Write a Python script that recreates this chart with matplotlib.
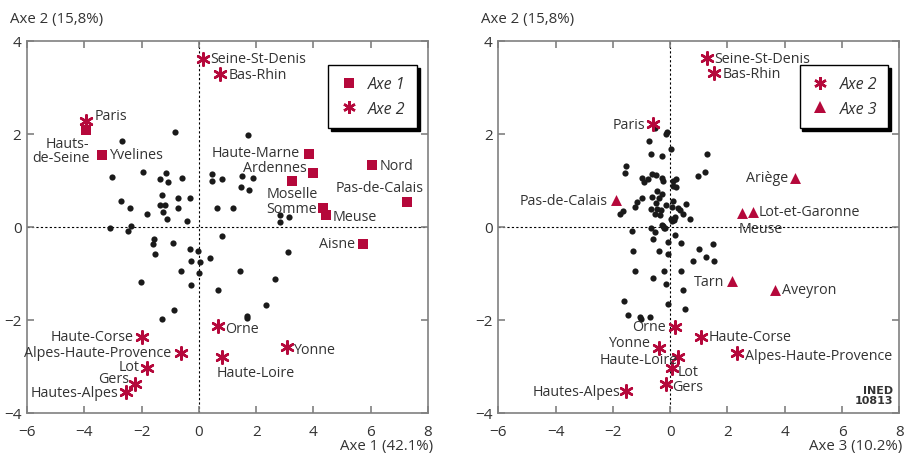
import matplotlib
matplotlib.use('Agg')
import matplotlib.pyplot as plt
from matplotlib.lines import Line2D

plt.rcParams['font.family'] = ['Open Sans', 'DejaVu Sans']

ROUGE = '#b5083b'
GRIS = '#808080'

# ---- panneau gauche : Axe 1 x Axe 2 ----
g_axe1_noms = ['Hauts-\nde-Seine', 'Yvelines', 'Haute-Marne', 'Ardennes', 'Moselle',
               'Nord', 'Pas-de-Calais', 'Somme', 'Meuse', 'Aisne']
g_axe1_x = [-3.95, -3.37, 3.85, 3.98, 3.26, 6.06, 7.27, 4.32, 4.45, 5.74]
g_axe1_y = [2.08, 1.55, 1.57, 1.16, 0.99, 1.32, 0.54, 0.39, 0.24, -0.37]

g_axe2_noms = ['Seine-St-Denis', 'Bas-Rhin', 'Paris', 'Orne', 'Haute-Loire', 'Yonne',
               'Haute-Corse', 'Alpes-Haute-Provence', 'Lot', 'Gers', 'Hautes-Alpes']
g_axe2_x = [0.13, 0.75, -3.93, 0.67, 0.82, 3.07, -1.99, -0.64, -1.81, -2.23, -2.53]
g_axe2_y = [3.61, 3.28, 2.28, -2.13, -2.80, -2.59, -2.37, -2.71, -3.05, -3.38, -3.56]

g_autres_x = [-2.68, -0.84, 1.72, -3.02, -1.94, -1.35, -1.14, -1.08, -0.58, -1.30,
              -0.73, -0.32, -2.71, -2.40, -1.81, -1.37, -1.17, -1.24, -1.10, -0.72,
              -0.40, 0.46, 0.46, 0.82, 1.52, 1.88, 1.46, 1.75, 0.63, 1.19,
              2.83, 3.15, 2.83, -3.09, -2.38, -2.47, -1.55, -1.60, -1.53, -0.89,
              -0.30, -0.03, -0.29, 0.04, 0.39, 0.82, -0.64, 0.02, 1.42, 3.12,
              2.65, -2.01, -0.29, 0.68, 2.34, 1.68, 1.68, -0.88, -1.28]
g_autres_y = [1.85, 2.04, 1.97, 1.06, 1.18, 1.03, 1.15, 0.97, 1.04, 0.69,
              0.62, 0.62, 0.55, 0.40, 0.27, 0.46, 0.47, 0.31, 0.16, 0.41,
              0.12, 1.13, 0.98, 1.03, 1.08, 1.04, 0.86, 0.79, 0.40, 0.39,
              0.25, 0.20, 0.09, -0.04, 0.01, -0.09, -0.27, -0.37, -0.58, -0.35,
              -0.49, -0.53, -0.75, -0.77, -0.67, -0.20, -0.96, -0.99, -0.96, -0.54,
              -1.13, -1.20, -1.25, -1.37, -1.68, -1.92, -1.97, -1.80, -1.98]

# ---- panneau droit : Axe 3 x Axe 2 ----
d_axe2_noms = ['Seine-St-Denis', 'Bas-Rhin', 'Paris', 'Orne', 'Haute-Corse',
               'Alpes-Haute-Provence', 'Yonne', 'Haute-Loire', 'Lot', 'Gers', 'Hautes-Alpes']
d_axe2_x = [1.27, 1.54, -0.60, 0.16, 1.06, 2.34, -0.39, 0.26, 0.05, -0.16, -1.53]
d_axe2_y = [3.62, 3.30, 2.20, -2.15, -2.37, -2.73, -2.61, -2.80, -3.05, -3.38, -3.54]

d_axe3_noms = ['Ariège', 'Pas-de-Calais', 'Meuse', 'Lot-et-Garonne', 'Tarn', 'Aveyron']
d_axe3_x = [4.35, -1.89, 2.52, 2.89, 2.16, 3.65]
d_axe3_y = [1.05, 0.57, 0.29, 0.32, -1.18, -1.36]

d_autres_x = [-0.52, -0.15, -0.11, -0.74, 0.04, -0.67, -0.27, 1.27, -1.55, -1.58,
              1.22, 0.97, -0.98, -0.90, -0.79, -0.62, -0.48, -0.29, -0.25, 0.11,
              0.22, 0.10, 0.21, -0.46, -0.29, -0.64, -0.38, -0.98, -1.16, -1.24,
              -1.66, -1.76, -0.51, -0.16, 0.10, 0.54, 0.08, 0.28, 0.44, 0.71,
              -0.67, -0.46, -0.33, -0.53, -0.35, 0.04, 0.12, 0.08, 0.35, -0.25,
              -0.67, -0.20, 0.18, -1.33, -0.52, -0.29, -0.19, 0.18, -0.60, -0.07,
              0.37, 1.48, -1.31, -0.38, -0.08, 1.00, 1.25, 0.81, 1.52, -1.24,
              -0.23, 0.38, -0.60, -0.16, 0.45, -0.09, 0.51, -1.61, -1.47, -1.05,
              -1.01, -0.72]
d_autres_y = [2.13, 1.99, 2.03, 1.84, 1.68, 1.56, 1.51, 1.56, 1.31, 1.16,
              1.17, 1.08, 1.05, 0.97, 1.02, 1.14, 1.12, 1.05, 0.99, 0.98,
              1.03, 0.88, 0.86, 0.77, 0.70, 0.63, 0.62, 0.62, 0.54, 0.42,
              0.34, 0.27, 0.50, 0.47, 0.56, 0.49, 0.42, 0.40, 0.27, 0.16,
              0.38, 0.38, 0.35, 0.27, 0.26, 0.16, 0.14, 0.11, 0.36, 0.02,
              -0.03, -0.04, 0.21, -0.09, -0.11, 0.04, -0.03, -0.19, -0.27, -0.34,
              -0.35, -0.37, -0.53, -0.53, -0.58, -0.48, -0.65, -0.73, -0.75, -0.95,
              -0.96, -0.95, -1.10, -1.23, -1.36, -1.67, -1.78, -1.61, -1.91, -1.94,
              -1.98, -1.94]

# placement des étiquettes (décalage en pixels, alignements)
place_gauche = {
    'Seine-St-Denis': (8, 0, 'left', 'center'),
    'Bas-Rhin': (8, 0, 'left', 'center'),
    'Paris': (8, 5, 'left', 'center'),
    'Hauts-\nde-Seine': (4, -6, 'right', 'top'),
    'Yvelines': (7, 0, 'left', 'center'),
    'Haute-Marne': (-9, 1, 'right', 'center'),
    'Ardennes': (-6, 5, 'right', 'center'),
    'Moselle': (0, -5, 'center', 'top'),
    'Somme': (-6, 0, 'right', 'center'),
    'Meuse': (6, -1, 'left', 'center'),
    'Nord': (7, 0, 'left', 'center'),
    'Pas-de-Calais': (17, 14, 'right', 'center'),
    'Aisne': (-8, 0, 'right', 'center'),
    'Orne': (7, -3, 'left', 'center'),
    'Haute-Loire': (-6, -8, 'left', 'top'),
    'Yonne': (6, -3, 'left', 'center'),
    'Haute-Corse': (-8, 0, 'right', 'center'),
    'Alpes-Haute-Provence': (-9, 0, 'right', 'center'),
    'Lot': (-8, 2, 'right', 'center'),
    'Gers': (-6, 5, 'right', 'center'),
    'Hautes-Alpes': (-8, 0, 'right', 'center'),
}
place_droite = {
    'Seine-St-Denis': (8, 0, 'left', 'center'),
    'Bas-Rhin': (8, 0, 'left', 'center'),
    'Paris': (-8, 0, 'right', 'center'),
    'Ariège': (-7, 0, 'right', 'center'),
    'Pas-de-Calais': (-8, 0, 'right', 'center'),
    'Lot-et-Garonne': (6, 0, 'left', 'center'),
    'Meuse': (-4, -8, 'left', 'top'),
    'Tarn': (-8, 0, 'right', 'center'),
    'Aveyron': (7, 0, 'left', 'center'),
    'Orne': (-9, 0, 'right', 'center'),
    'Haute-Corse': (8, 0, 'left', 'center'),
    'Alpes-Haute-Provence': (8, -2, 'left', 'center'),
    'Yonne': (-9, 5, 'right', 'center'),
    'Haute-Loire': (0, -3, 'right', 'center'),
    'Lot': (6, -3, 'left', 'center'),
    'Gers': (7, -3, 'left', 'center'),
    'Hautes-Alpes': (-6, 0, 'right', 'center'),
}

ETOILE = (6, 2, 0)
TAILLE_TXT = 10.3


def habiller(ax):
    ax.set_xlim(-6, 8)
    ax.set_ylim(-4, 4)
    ax.set_xticks(range(-6, 9, 2))
    ax.set_yticks(range(-4, 5, 2))
    ax.axhline(0, color='k', ls=(0, (2, 2)), lw=0.8, zorder=1)
    ax.axvline(0, color='k', ls=(0, (2, 2)), lw=0.8, zorder=1)
    for s in ax.spines.values():
        s.set_color(GRIS)
        s.set_linewidth(1.2)
    ax.tick_params(direction='in', length=5, width=1.2, color=GRIS, top=True, right=True,
                   labelsize=11, labelcolor='#333333')
    ax.tick_params(axis='x', pad=8)
    ax.tick_params(axis='y', pad=4)


def etiquettes(ax, noms, xs, ys, place):
    for n, x, y in zip(noms, xs, ys):
        dx, dy, ha, va = place[n]
        ax.annotate(n, (x, y), xytext=(dx, dy), textcoords='offset pixels',
                    ha=ha, va=va, fontsize=TAILLE_TXT, color='#333333',
                    linespacing=0.95, zorder=4)


def legende(ax, items, ancre):
    poignees = []
    for marq, lab, ms in items:
        poignees.append(Line2D([], [], ls='none', marker=marq, color=ROUGE, markersize=ms,
                               markeredgewidth=1.8 if marq == ETOILE else 0, label=lab))
    leg = ax.legend(handles=poignees, loc='upper right', bbox_to_anchor=ancre,
                    borderaxespad=0, frameon=True, fancybox=False,
                    shadow={'color': 'k', 'alpha': 1}, prop={'style': 'italic', 'size': 11.5},
                    handlelength=1.2, handletextpad=0.6, borderpad=0.7, labelspacing=0.55)
    leg.get_frame().set_edgecolor('k')
    leg.get_frame().set_linewidth(1)
    for t in leg.get_texts():
        t.set_color('#333333')


fig = plt.figure(figsize=(9.05, 4.56), dpi=100)

ax1 = fig.add_axes([27 / 905, 42.5 / 456, 401 / 905, 371.8 / 456])
habiller(ax1)
ax1.scatter(g_autres_x, g_autres_y, s=20, color='#1a1a1a', zorder=2, lw=0)
ax1.scatter(g_axe1_x, g_axe1_y, marker='s', s=58, color=ROUGE, zorder=3, lw=0)
ax1.scatter(g_axe2_x, g_axe2_y, marker=ETOILE, s=80, color=ROUGE, zorder=3, lw=1.8)
etiquettes(ax1, g_axe1_noms, g_axe1_x, g_axe1_y, place_gauche)
etiquettes(ax1, g_axe2_noms, g_axe2_x, g_axe2_y, place_gauche)
legende(ax1, [('s', 'Axe 1', 7.5), (ETOILE, 'Axe 2', 9)], (0.9726, 0.9347))

ax2 = fig.add_axes([498.3 / 905, 42.5 / 456, 401 / 905, 371.8 / 456])
habiller(ax2)
ax2.scatter(d_autres_x, d_autres_y, s=20, color='#1a1a1a', zorder=2, lw=0)
ax2.scatter(d_axe2_x, d_axe2_y, marker=ETOILE, s=80, color=ROUGE, zorder=3, lw=1.8)
ax2.scatter(d_axe3_x, d_axe3_y, marker='^', s=62, color=ROUGE, zorder=3, lw=0)
etiquettes(ax2, d_axe2_noms, d_axe2_x, d_axe2_y, place_droite)
etiquettes(ax2, d_axe3_noms, d_axe3_x, d_axe3_y, place_droite)
legende(ax2, [(ETOILE, 'Axe 2', 9), ('^', 'Axe 3', 9)], (0.9726, 0.9347))

ax2.text(0.985, 0.02, 'INED\n10813', transform=ax2.transAxes, ha='right', va='bottom',
         fontsize=8, fontweight='bold', color='#333333', linespacing=1.0,
         family='Liberation Sans Narrow')

# titres des axes
fig.text(10 / 905, 1 - 20 / 456, 'Axe 2 (15,8%)', fontsize=10.8, color='#333333', va='center')
fig.text(481 / 905, 1 - 20 / 456, 'Axe 2 (15,8%)', fontsize=10.8, color='#333333', va='center')
fig.text(433 / 905, 2 / 456, 'Axe 1 (42.1%)', fontsize=10.8, color='#333333',
         va='bottom', ha='right')
fig.text(902 / 905, 2 / 456, 'Axe 3 (10.2%)', fontsize=10.8, color='#333333',
         va='bottom', ha='right')

fig.savefig('out.png', dpi=100)
